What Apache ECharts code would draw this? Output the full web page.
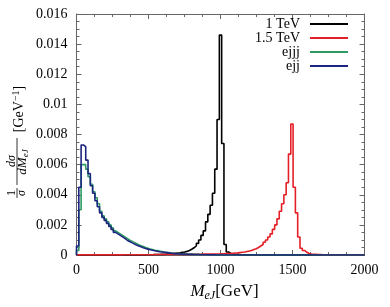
<!DOCTYPE html>
<html>
<head>
<meta charset="utf-8">
<script src="https://cdn.jsdelivr.net/npm/echarts@6/dist/echarts.min.js"></script>
<style>html,body{margin:0;padding:0;background:#fff;}#c{width:390px;height:307px;}</style>
</head>
<body>
<div id="c"></div>
<script>
// Histogram: 125 bins of 16 GeV between 0 and 2000 GeV
const xMin = 0, xMax = 2000, binWidth = 16;
const xTicks = [0, 500, 1000, 1500, 2000];
const yTicks = [0, 0.002, 0.004, 0.006, 0.008, 0.01, 0.012, 0.014, 0.016];
const seriesNames = ['1 TeV', '1.5 TeV', 'ejjj', 'ejj'];

const tev1 = [
 0,0,0,0,0,0,0,0,0,0,
 0,0,0,0,0,0,0,0,0,0,
 0.00001,0.00001,0.00001,0.00001,0.00001,0.00001,0.00001,0.00001,0.00001,0.00001,
 0.00002,0.00002,0.00002,0.00003,0.00003,0.00003,0.00004,0.00004,0.00005,0.00006,
 0.00007,0.00009,0.00011,0.00013,0.00015,0.00018,0.0002,0.00024,0.0003,0.00038,
 0.00048,0.0006,0.00077,0.001,0.0013,0.0016,0.0022,0.0027,0.0033,0.0041,
 0.0057,0.009,0.0146,0.0074,0.0007,0.0002,0.0001,0.00006,0.00004,0.00003,
 0.00002,0.00002,0.00001,0.00001,0.00001,0,0,0,0,0,
 0,0,0,0,0,0,0,0,0,0,
 0,0,0,0,0,0,0,0,0,0,
 0,0,0,0,0,0,0,0,0,0,
 0,0,0,0,0,0,0,0,0,0,
 0,0,0,0,0
];
const tev15 = [
 0.00001,0.00001,0.00001,0.00001,0.00001,0.00001,0.00001,0.00001,0.00001,0.00001,
 0.00001,0.00001,0.00001,0.00001,0.00001,0.00001,0.00001,0.00001,0.00001,0.00001,
 0.00002,0.00002,0.00002,0.00002,0.00002,0.00002,0.00002,0.00002,0.00002,0.00002,
 0.00002,0.00002,0.00002,0.00003,0.00003,0.00003,0.00003,0.00003,0.00004,0.00004,
 0.00004,0.00004,0.00004,0.00004,0.00004,0.00004,0.00004,0.00004,0.00004,0.00004,
 0.00005,0.00005,0.00005,0.00005,0.00006,0.00006,0.00006,0.00006,0.00007,0.00007,
 0.00007,0.00007,0.00008,0.00008,0.00009,0.0001,0.00011,0.00012,0.00013,0.00014,
 0.00016,0.00018,0.0002,0.00023,0.00026,0.0003,0.00036,0.00042,0.0005,0.0006,
 0.0007,0.00085,0.001,0.0012,0.0014,0.0017,0.002,0.0024,0.0029,0.0034,
 0.004,0.0048,0.0067,0.0087,0.0045,0.0028,0.0012,0.00045,0.0003,0.00018,
 0.0001,0.00007,0.00005,0.00004,0.00003,0.00003,0.00002,0.00002,0.00002,0.00001,
 0.00001,0.00001,0.00001,0.00001,0.00001,0,0,0,0,0,
 0,0,0,0,0
];
const ejjj = [
 0.0003,0.0030,0.0060,0.0060,0.0057,0.0052,0.0047,0.0042,0.0038,0.0034,
 0.0029,0.0026,0.0024,0.0022,0.002,0.0018,0.0016,0.0015,0.0014,0.0013,
 0.0012,0.0011,0.001,0.00092,0.00084,0.00076,0.00069,0.00062,0.00056,0.0005,
 0.00045,0.0004,0.00036,0.00032,0.00029,0.00026,0.00023,0.0002,0.00018,0.00016,
 0.00014,0.00012,0.0001,0.00009,0.00008,0.00007,0.00006,0.00005,0.00004,0.00004,
 0.00004,0.00003,0.00003,0.00003,0.00002,0.00002,0.00002,0.00002,0.00001,0.00001,
 0,0,0,0,0,0,0,0,0,0,
 0,0,0,0,0,0,0,0,0,0,
 0,0,0,0,0,0,0,0,0,0,
 0,0,0,0,0,0,0,0,0,0,
 0,0,0,0,0,0,0,0,0,0,
 0,0,0,0,0,0,0,0,0,0,
 0,0,0,0,0
];
const ejj = [
 0.0006,0.0045,0.0073,0.0072,0.0063,0.0054,0.0046,0.0041,0.0036,0.0032,
 0.0028,0.0025,0.0023,0.0021,0.0019,0.0017,0.0015,0.0014,0.0013,0.0012,
 0.0011,0.00098,0.0009,0.00082,0.00074,0.00066,0.0006,0.00054,0.00048,0.00043,
 0.00039,0.00035,0.00031,0.00028,0.00025,0.00022,0.0002,0.00018,0.00016,0.00014,
 0.00012,0.0001,0.00009,0.00008,0.00007,0.00006,0.00005,0.00005,0.00004,0.00004,
 0.00003,0.00003,0.00003,0.00002,0.00002,0.00002,0.00002,0.00001,0.00001,0.00001,
 0,0,0,0,0,0,0,0,0,0,
 0,0,0,0,0,0,0,0,0,0,
 0,0,0,0,0,0,0,0,0,0,
 0,0,0,0,0,0,0,0,0,0,
 0,0,0,0,0,0,0,0,0,0,
 0,0,0,0,0,0,0,0,0,0,
 0,0,0,0,0
];
const colors = ['#000000', '#e41f26', '#2f9b62', '#1c2580'];

function histPoints(vals) {
  const pts = [[xMin, 0]];
  for (let i = 0; i < vals.length; i++) pts.push([xMin + i * binWidth, vals[i]]);
  pts.push([xMax, vals[vals.length - 1]]);
  return pts;
}

const FONT = 'Liberation Serif';
const AX = '#666';
function axisCommon(extra) {
  return Object.assign({
    type: 'value',
    axisLine: { show: true, onZero: false, lineStyle: { color: AX, width: 1 } },
    axisTick: { show: true, inside: true, length: 5, lineStyle: { color: AX } },
    minorTick: { show: true, splitNumber: 4, length: 3, lineStyle: { color: AX } },
    splitLine: { show: false }
  }, extra);
}

const allSeries = [tev1, tev15, ejjj, ejj].map((vals, i) => ({
  name: seriesNames[i], type: 'line', step: 'end', symbol: 'none', showSymbol: false,
  silent: true, color: colors[i], lineStyle: { width: 1.6, color: colors[i] },
  xAxisIndex: 0, yAxisIndex: 0, data: histPoints(vals)
}));

const legendTops = [17, 31, 45, 59];
const legends = seriesNames.map((n, i) => ({
  data: [n], right: 42, top: legendTops[i], orient: 'horizontal', align: 'right',
  icon: 'rect', itemWidth: 38, itemHeight: 2, padding: 0, selectedMode: false,
  textStyle: { fontFamily: FONT, fontSize: 14, color: '#000', padding: [0, 5, 0, 0] }
}));

const R = Math.PI / 2;
function vtext(x, y, text, rich) {
  return { type: 'text', x: x, y: y, rotation: R, silent: true,
    style: { text: text, align: 'center', verticalAlign: 'middle', rich: rich } };
}
const it = (s, lh) => ({ fontFamily: FONT, fontStyle: 'italic', fontSize: s, lineHeight: lh, color: '#000' });
const up = (s, lh) => ({ fontFamily: FONT, fontSize: s, lineHeight: lh, color: '#000' });

const chart = echarts.init(document.getElementById('c'), null, { renderer: 'canvas' });
chart.setOption({
  animation: false,
  textStyle: { fontFamily: FONT },
  grid: { left: 76.5, right: 25.5, top: 14, bottom: 45 },
  xAxis: [
    axisCommon({ min: xMin, max: xMax, interval: 500,
      axisLabel: { color: '#000', fontSize: 14, fontFamily: FONT, margin: 8,
        formatter: v => String(v) },
      name: '{m|M}{s|eJ}{n|[GeV]}', nameLocation: 'middle', nameGap: 27,
      nameTextStyle: { padding: [0, 0, 0, 8], rich: {
        m: { fontFamily: FONT, fontStyle: 'italic', fontSize: 17, lineHeight: 20, color: '#000' },
        s: { fontFamily: FONT, fontStyle: 'italic', fontSize: 12, lineHeight: 10, verticalAlign: 'bottom', color: '#000' },
        n: { fontFamily: FONT, fontSize: 17, lineHeight: 20, color: '#000' } } } }),
    axisCommon({ min: xMin, max: xMax, interval: 500, position: 'top', axisLabel: { show: false } })
  ],
  yAxis: [
    axisCommon({ min: 0, max: 0.016, interval: 0.002,
      axisLabel: { color: '#000', fontSize: 14, fontFamily: FONT, margin: 9,
        formatter: v => String(+v.toFixed(3)) } }),
    axisCommon({ min: 0, max: 0.016, interval: 0.002, position: 'right', axisLabel: { show: false } })
  ],
  legend: legends,
  series: allSeries,
  graphic: [
    vtext(12, 193, '{a|1}', { a: up(12, 14) }),
    { type: 'line', silent: true, shape: { x1: 17, y1: 188, x2: 17, y2: 198 }, style: { stroke: '#000', lineWidth: 0.8 } },
    vtext(22, 193, '{a|σ}', { a: it(12, 14) }),
    vtext(12, 161, '{a|dσ}', { a: it(12, 14) }),
    { type: 'line', silent: true, shape: { x1: 17, y1: 138, x2: 17, y2: 185 }, style: { stroke: '#000', lineWidth: 0.8 } },
    vtext(23, 162, '{a|dM}{b|eJ}', { a: it(13, 15), b: Object.assign(it(9, 9), { verticalAlign: 'bottom' }) }),
    vtext(19, 109, '{a|[GeV}{b|−1}{a|]}', { a: up(14, 16), b: Object.assign(up(10, 10), { verticalAlign: 'top' }) })
  ]
});
</script>
</body>
</html>
